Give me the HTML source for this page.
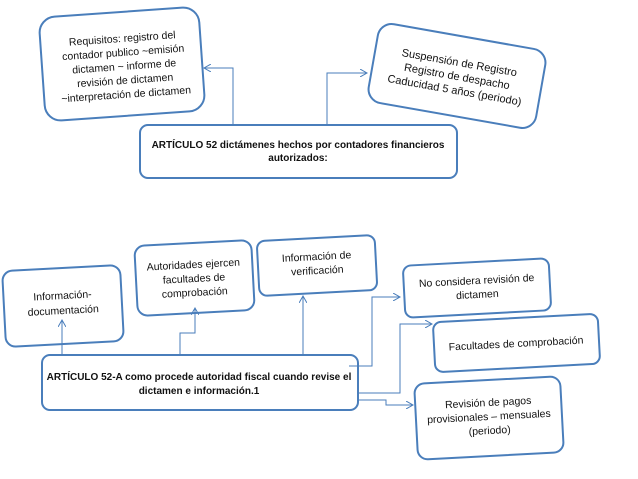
<!DOCTYPE html>
<html><head><meta charset="utf-8"><style>
html,body{margin:0;padding:0;background:#fff;}
svg{display:block;}
text{font-family:"Liberation Sans",sans-serif;fill:#111;}
</style></head><body>
<svg width="638" height="479" viewBox="0 0 638 479" xmlns="http://www.w3.org/2000/svg">
<defs><marker id="a" markerWidth="8" markerHeight="8" refX="7" refY="4" orient="auto" markerUnits="userSpaceOnUse"><path d="M0,0 L7,4 L0,8" fill="none" stroke="#4a7ebb" stroke-width="1"/></marker></defs>
<g fill="#fff" stroke="#4a7ebb" stroke-width="2">
<rect x="42" y="12" width="160" height="104" rx="16" transform="rotate(-4 122 64)"/>
<rect x="372" y="36" width="170" height="80" rx="14" transform="rotate(10 457 76)"/>
<rect x="140" y="125" width="317" height="53" rx="8"/>
<rect x="4" y="268" width="118" height="76" rx="10" transform="rotate(-3 63 306)"/>
<rect x="136" y="243" width="117" height="70" rx="10" transform="rotate(-3 194 278)"/>
<rect x="258" y="238" width="118" height="55" rx="8" transform="rotate(-3 317 265)"/>
<rect x="404" y="262" width="146" height="52" rx="8" transform="rotate(-3 477 288)"/>
<rect x="434" y="318" width="165" height="50" rx="8" transform="rotate(-3 516 343)"/>
<rect x="416" y="380" width="146" height="76" rx="10" transform="rotate(-3 489 418)"/>
<rect x="42" y="355" width="316" height="55" rx="8"/>
</g>
<g fill="none" stroke="#4a7ebb" stroke-width="1">
<path d="M233 125 V68 H204" marker-end="url(#a)"/>
<path d="M327 125 V73 H367" marker-end="url(#a)"/>
<path d="M62 355 V320" marker-end="url(#a)"/>
<path d="M180 355 V333 H195 V308" marker-end="url(#a)"/>
<path d="M303 355 V296" marker-end="url(#a)"/>
<path d="M349 366 H372 V297 H400" marker-end="url(#a)"/>
<path d="M358 393 H400 V324 H432" marker-end="url(#a)"/>
<path d="M358 400 H386 V405 H413" marker-end="url(#a)"/>
</g>
<g font-size="10.5" text-anchor="middle">
<g transform="rotate(-4 122 64)">
<text x="124" y="42">Requisitos: registro del</text>
<text x="124" y="56">contador publico ~emisión</text>
<text x="124" y="70">dictamen ~ informe de</text>
<text x="124" y="84">revisión de dictamen</text>
<text x="124" y="98">~interpretación de dictamen</text>
</g>
<g transform="rotate(10 457 76)" font-size="11">
<text x="457" y="66">Suspensión de Registro</text>
<text x="457" y="80">Registro de despacho</text>
<text x="457" y="94">Caducidad 5 años (periodo)</text>
</g>
<g font-weight="bold" font-size="10">
<text x="298" y="148">ARTÍCULO 52 dictámenes hechos por contadores financieros</text>
<text x="298" y="161">autorizados:</text>
<text x="199" y="380">ARTÍCULO 52-A como procede autoridad fiscal cuando revise el</text>
<text x="199" y="394">dictamen e información.1</text>
</g>
<g transform="rotate(-3 63 306)"><text x="63" y="299">Información-</text><text x="63" y="314">documentación</text></g>
<g transform="rotate(-3 194 278)"><text x="194" y="268">Autoridades ejercen</text><text x="194" y="282">facultades de</text><text x="194" y="296">comprobación</text></g>
<g transform="rotate(-3 317 265)"><text x="317" y="260">Información de</text><text x="317" y="274">verificación</text></g>
<g transform="rotate(-3 477 288)"><text x="477" y="284">No considera revisión de</text><text x="477" y="298">dictamen</text></g>
<g transform="rotate(-3 516 343)"><text x="516" y="347">Facultades de comprobación</text></g>
<g transform="rotate(-3 489 418)"><text x="489" y="406">Revisión de pagos</text><text x="489" y="420">provisionales – mensuales</text><text x="489" y="434">(periodo)</text></g>
</g>
</svg>
</body></html>
